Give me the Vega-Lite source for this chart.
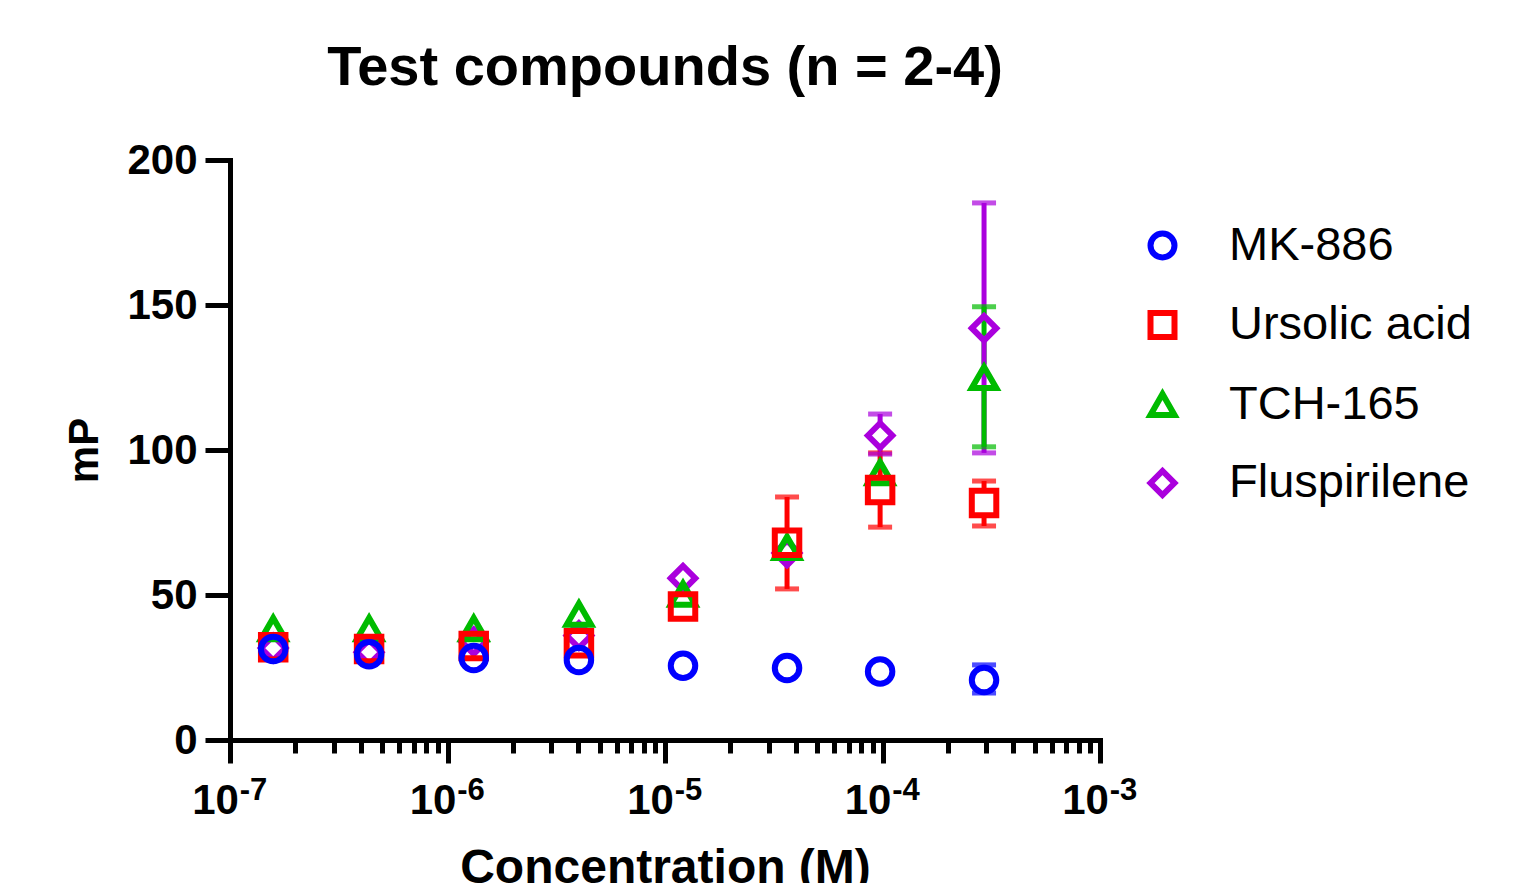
{
  "$schema": "https://vega.github.io/schema/vega-lite/v6.json",
  "width": 870,
  "height": 580,
  "autosize": "none",
  "padding": {"left": 230, "top": 160, "right": 439, "bottom": 143},
  "background": "white",
  "config": {
    "view": {"stroke": null},
    "font": "Liberation Sans",
    "axisY": {"grid": false, "labelFont": "Liberation Sans", "labelFontSize": 42, "labelFontWeight": "bold", "labelColor": "black", "labelPadding": 8, "labelFlush": false,
      "tickSize": 25, "tickWidth": 5, "tickColor": "black", "domainColor": "black", "domainWidth": 5, "domainCap": "square",
      "titleFont": "Liberation Sans", "titleFontSize": 42, "titleFontWeight": "bold", "titleColor": "black", "titlePadding": 20}
  },
  "title": {"text": "Test compounds (n = 2-4)", "fontSize": 56, "fontWeight": "bold", "font": "Liberation Sans", "color": "black", "anchor": "middle", "frame": "group", "offset": 42},
  "data": {"values": [
    {"cmp": "Fluspirilene", "conc": 1.58e-7, "mean": 31.7},
    {"cmp": "Fluspirilene", "conc": 4.36e-7, "mean": 30.3},
    {"cmp": "Fluspirilene", "conc": 1.32e-6, "mean": 33.9},
    {"cmp": "Fluspirilene", "conc": 4.02e-6, "mean": 36.0},
    {"cmp": "Fluspirilene", "conc": 1.21e-5, "mean": 55.8},
    {"cmp": "Fluspirilene", "conc": 3.64e-5, "mean": 64.5},
    {"cmp": "Fluspirilene", "conc": 9.75e-5, "mean": 105.0, "lo": 98.6, "hi": 112.4},
    {"cmp": "Fluspirilene", "conc": 2.93e-4, "mean": 142.0, "lo": 99.0, "hi": 185.2},
    {"cmp": "TCH-165", "conc": 1.58e-7, "mean": 38.4},
    {"cmp": "TCH-165", "conc": 4.36e-7, "mean": 38.4},
    {"cmp": "TCH-165", "conc": 1.32e-6, "mean": 38.4},
    {"cmp": "TCH-165", "conc": 4.02e-6, "mean": 43.4},
    {"cmp": "TCH-165", "conc": 1.21e-5, "mean": 50.3},
    {"cmp": "TCH-165", "conc": 3.64e-5, "mean": 66.4},
    {"cmp": "TCH-165", "conc": 9.75e-5, "mean": 92.2},
    {"cmp": "TCH-165", "conc": 2.93e-4, "mean": 125.0, "lo": 101.1, "hi": 149.4},
    {"cmp": "Ursolic acid", "conc": 1.58e-7, "mean": 32.0},
    {"cmp": "Ursolic acid", "conc": 4.36e-7, "mean": 31.4},
    {"cmp": "Ursolic acid", "conc": 1.32e-6, "mean": 32.4},
    {"cmp": "Ursolic acid", "conc": 4.02e-6, "mean": 33.4},
    {"cmp": "Ursolic acid", "conc": 1.21e-5, "mean": 46.0},
    {"cmp": "Ursolic acid", "conc": 3.64e-5, "mean": 68.0, "lo": 52.1, "hi": 83.8},
    {"cmp": "Ursolic acid", "conc": 9.75e-5, "mean": 86.2, "lo": 73.4, "hi": 99.0},
    {"cmp": "Ursolic acid", "conc": 2.93e-4, "mean": 81.7, "lo": 73.8, "hi": 89.3},
    {"cmp": "MK-886", "conc": 1.58e-7, "mean": 31.4},
    {"cmp": "MK-886", "conc": 4.36e-7, "mean": 29.6},
    {"cmp": "MK-886", "conc": 1.32e-6, "mean": 28.3},
    {"cmp": "MK-886", "conc": 4.02e-6, "mean": 27.6},
    {"cmp": "MK-886", "conc": 1.21e-5, "mean": 25.6},
    {"cmp": "MK-886", "conc": 3.64e-5, "mean": 24.8},
    {"cmp": "MK-886", "conc": 9.75e-5, "mean": 23.6},
    {"cmp": "MK-886", "conc": 2.93e-4, "mean": 20.7, "lo": 16.2, "hi": 25.9}
  ]},
  "layer": [
    {
      "transform": [{"filter": "isValid(datum.hi)"}],
      "mark": {"type": "rule", "strokeWidth": 5, "yOffset": -13},
      "encoding": {
        "x": {"field": "conc", "type": "quantitative", "scale": {"type": "log", "domain": [1e-7, 1e-3]},
          "axis": {"values": [1e-7, 1e-6, 1e-5, 1e-4, 1e-3], "orient": "bottom", "grid": false,
            "labelExpr": "'10'",
            "labelFont": "Liberation Sans", "labelFontSize": 42, "labelFontWeight": "bold", "labelColor": "black", "labelBaseline": "alphabetic", "labelPadding": 50, "labelOffset": -15, "labelFlush": false, "labelOverlap": false,
            "tickSize": 23, "tickWidth": 5, "tickColor": "black", "domainColor": "black", "domainWidth": 5, "domainCap": "square",
            "title": "Concentration (M)", "titleFont": "Liberation Sans", "titleFontSize": 48, "titleFontWeight": "bold", "titleColor": "black", "titlePadding": 23}},
        "y": {"field": "mean", "type": "quantitative", "scale": {"domain": [0, 200]}, "axis": {"title": "mP", "values": [0, 50, 100, 150, 200], "grid": false}},
        "y2": {"field": "hi"},
        "stroke": {"field": "cmp", "type": "nominal", "scale": {"domain": ["Fluspirilene", "TCH-165", "Ursolic acid", "MK-886"], "range": ["#aa00dd", "#00bb00", "#ff0000", "#0000ff"]}, "legend": null}
      }
    },
    {
      "transform": [{"filter": "isValid(datum.lo)"}],
      "mark": {"type": "rule", "strokeWidth": 5, "yOffset": 13},
      "encoding": {
        "x": {"field": "conc", "type": "quantitative", "scale": {"type": "log", "domain": [1e-7, 1e-3]}, "axis": null},
        "y": {"field": "mean", "type": "quantitative", "scale": {"domain": [0, 200]}, "axis": {"title": "mP", "values": [0, 50, 100, 150, 200], "grid": false}},
        "y2": {"field": "lo"},
        "stroke": {"field": "cmp", "type": "nominal", "scale": {"domain": ["Fluspirilene", "TCH-165", "Ursolic acid", "MK-886"], "range": ["#aa00dd", "#00bb00", "#ff0000", "#0000ff"]}, "legend": null}
      }
    },
    {
      "transform": [{"filter": "isValid(datum.hi)"}],
      "mark": {"type": "tick", "orient": "horizontal", "size": 24, "thickness": 5},
      "encoding": {
        "x": {"field": "conc", "type": "quantitative", "scale": {"type": "log", "domain": [1e-7, 1e-3]},
          "axis": {"values": [1e-7, 1e-6, 1e-5, 1e-4, 1e-3], "orient": "bottom", "grid": false, "domain": false, "title": null,
            "labelExpr": "datum.value < 3e-7 ? '-7' : datum.value < 3e-6 ? '-6' : datum.value < 3e-5 ? '-5' : datum.value < 3e-4 ? '-4' : '-3'",
            "labelFont": "Liberation Sans", "labelFontSize": 31, "labelFontWeight": "bold", "labelColor": "black", "labelBaseline": "alphabetic", "labelPadding": 36, "labelOffset": 23, "labelFlush": false, "labelOverlap": false,
            "tickSize": 23, "tickWidth": 1, "tickOpacity": 0}},
        "y": {"field": "hi", "type": "quantitative", "scale": {"domain": [0, 200]}, "axis": {"title": "mP", "values": [0, 50, 100, 150, 200], "grid": false}},
        "fill": {"field": "cmp", "type": "nominal", "scale": {"domain": ["TCH-165", "MK-886", "Fluspirilene", "Ursolic acid"], "range": ["#00bb00", "#0000ff", "#aa00dd", "#ff0000"]}, "legend": null}
      }
    },
    {
      "transform": [{"filter": "isValid(datum.lo)"}],
      "mark": {"type": "tick", "orient": "horizontal", "size": 24, "thickness": 5},
      "encoding": {
        "x": {"field": "conc", "type": "quantitative", "scale": {"type": "log", "domain": [1e-7, 1e-3]}, "axis": null},
        "y": {"field": "lo", "type": "quantitative", "scale": {"domain": [0, 200]}, "axis": {"title": "mP", "values": [0, 50, 100, 150, 200], "grid": false}},
        "fill": {"field": "cmp", "type": "nominal", "scale": {"domain": ["TCH-165", "MK-886", "Fluspirilene", "Ursolic acid"], "range": ["#00bb00", "#0000ff", "#aa00dd", "#ff0000"]}, "legend": null}
      }
    },
    {
      "mark": {"type": "point", "filled": false, "strokeWidth": 6, "size": 600, "opacity": 1},
      "encoding": {
        "x": {"field": "conc", "type": "quantitative", "scale": {"type": "log", "domain": [1e-7, 1e-3]},
          "axis": {"values": [2e-7, 3e-7, 4e-7, 5e-7, 6e-7, 7e-7, 8e-7, 9e-7, 2e-6, 3e-6, 4e-6, 5e-6, 6e-6, 7e-6, 8e-6, 9e-6, 2e-5, 3e-5, 4e-5, 5e-5, 6e-5, 7e-5, 8e-5, 9e-5, 2e-4, 3e-4, 4e-4, 5e-4, 6e-4, 7e-4, 8e-4, 9e-4],
            "orient": "bottom", "grid": false, "labels": false, "domain": false, "title": null, "tickSize": 13, "tickWidth": 5, "tickColor": "black"}},
        "y": {"field": "mean", "type": "quantitative", "scale": {"domain": [0, 200]}, "axis": {"title": "mP", "values": [0, 50, 100, 150, 200], "grid": false}},
        "color": {"field": "cmp", "type": "nominal", "scale": {"domain": ["MK-886", "Ursolic acid", "TCH-165", "Fluspirilene"], "range": ["#0000ff", "#ff0000", "#00bb00", "#aa00dd"]},
          "legend": {"orient": "none", "legendX": 909, "legendY": 62, "title": null, "padding": 0, "labelFont": "Liberation Sans", "labelFontSize": 47, "labelColor": "black", "labelLimit": 500, "labelOffset": 43, "rowPadding": 30.5, "symbolSize": 576, "symbolStrokeWidth": 6}},
        "shape": {"field": "cmp", "type": "nominal", "scale": {"domain": ["MK-886", "Ursolic acid", "TCH-165", "Fluspirilene"], "range": ["circle", "square", "triangle-up", "diamond"]},
          "legend": {"orient": "none", "legendX": 909, "legendY": 62, "title": null, "padding": 0, "labelFont": "Liberation Sans", "labelFontSize": 47, "labelColor": "black", "labelLimit": 500, "labelOffset": 43, "rowPadding": 30.5, "symbolSize": 576, "symbolStrokeWidth": 6}}
      }
    }
  ],
  "resolve": {"axis": {"x": "independent"}}
}
